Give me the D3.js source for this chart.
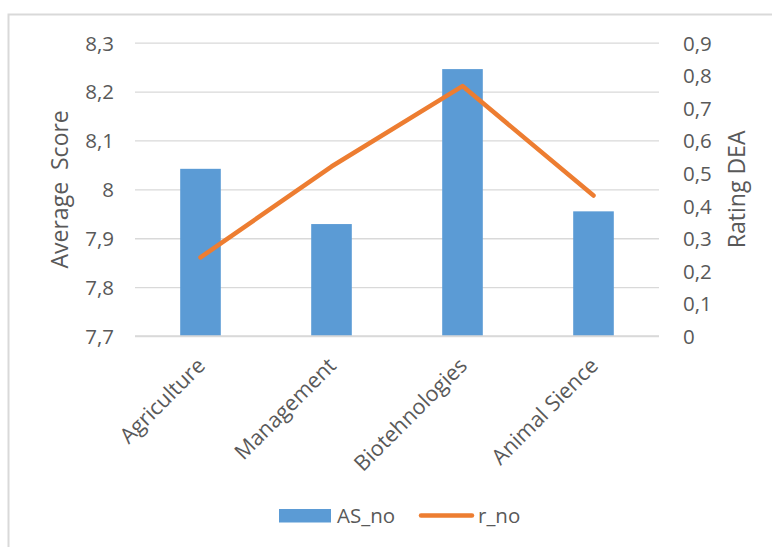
<!DOCTYPE html>
<html>
<head>
<meta charset="utf-8">
<script src="https://cdn.jsdelivr.net/npm/d3@7"></script>
<style>
  html, body { margin: 0; padding: 0; background: #fff; }
  svg { display: block; }
  text { font-family: "Open Sans", sans-serif; fill: #595959; }
</style>
</head>
<body>
<svg id="chart" width="772" height="547"></svg>
<script>
const categories = ["Agriculture", "Management", "Biotehnologies", "Animal Sience"];
const asNo = [8.042, 7.929, 8.246, 7.955];
const rNo = [0.241, 0.52, 0.767, 0.431];
const leftTicks = [7.7, 7.8, 7.9, 8.0, 8.1, 8.2, 8.3];
const rightTicks = [0, 0.1, 0.2, 0.3, 0.4, 0.5, 0.6, 0.7, 0.8, 0.9];
const seriesNames = ["AS_no", "r_no"];

const svg = d3.select("#chart");
const plot = { left: 135, right: 659, top: 42.7, bottom: 336 };
const fmt = v => (Math.round(v * 10) / 10).toString().replace(".", ",");

// outer border
svg.append("rect").attr("x", 8.5).attr("y", 14.5).attr("width", 900).attr("height", 700)
  .attr("fill", "none").attr("stroke", "#d9d9d9").attr("stroke-width", 2);

const x = d3.scaleBand().domain(categories).range([plot.left, plot.right]).paddingInner(0.69).paddingOuter(0.345);
const xc = d3.scaleBand().domain(categories).range([plot.left, plot.right]);
const yL = d3.scaleLinear().domain([7.7, 8.3]).range([plot.bottom, plot.top]);
const yR = d3.scaleLinear().domain([0, 0.9]).range([plot.bottom, plot.top]);

// gridlines
const gl = d3.axisLeft(yL).tickValues(leftTicks).tickSize(-(plot.right - plot.left)).tickFormat("");
const gg = svg.append("g").attr("transform", `translate(${plot.left},0)`).call(gl);
gg.select(".domain").remove();
gg.selectAll("line").attr("stroke", "#d9d9d9").attr("stroke-width", 1.3);

// left tick labels
const la = d3.axisLeft(yL).tickValues(leftTicks).tickSize(0).tickPadding(21).tickFormat(fmt);
const lg = svg.append("g").attr("transform", `translate(${plot.left},0)`).call(la);
lg.select(".domain").remove();
lg.selectAll("text").style("font-family", '"Open Sans", sans-serif').attr("font-size", 20.5).attr("fill", "#595959").attr("dy", "0.36em");

// right tick labels
const ra = d3.axisRight(yR).tickValues(rightTicks).tickSize(0).tickPadding(24).tickFormat(fmt);
const rg = svg.append("g").attr("transform", `translate(${plot.right},0)`).call(ra);
rg.select(".domain").remove();
rg.selectAll("text").style("font-family", '"Open Sans", sans-serif').attr("font-size", 20.5).attr("fill", "#595959").attr("dy", "0.36em");

// bars
svg.append("g").selectAll("rect").data(categories).join("rect")
  .attr("x", d => x(d)).attr("width", x.bandwidth())
  .attr("y", (d, i) => yL(asNo[i])).attr("height", (d, i) => yL(7.7) - yL(asNo[i]))
  .attr("fill", "#5b9bd5");

// baseline axis line
svg.append("line").attr("x1", plot.left).attr("x2", plot.right).attr("y1", plot.bottom).attr("y2", plot.bottom)
  .attr("stroke", "#d9d9d9").attr("stroke-width", 1.3);

// line
const line = d3.line().x((d, i) => xc(categories[i]) + xc.bandwidth() / 2).y(d => yR(d));
svg.append("path").datum(rNo).attr("d", line).attr("fill", "none")
  .attr("stroke", "#ed7d31").attr("stroke-width", 4.5).attr("stroke-linejoin", "round").attr("stroke-linecap", "round");

// category labels
svg.append("g").selectAll("text").data(categories).join("text")
  .attr("transform", d => `translate(${xc(d) + xc.bandwidth() / 2 + 6},${plot.bottom + 31}) rotate(-45)`)
  .attr("text-anchor", "end").attr("font-size", 21.5).text(d => d);

// axis titles
svg.append("text").attr("transform", `translate(68,${(plot.top + plot.bottom) / 2}) rotate(-90)`)
  .attr("text-anchor", "middle").attr("font-size", 23).attr("xml:space", "preserve").text("Average  Score");
svg.append("text").attr("transform", `translate(745,${(plot.top + plot.bottom) / 2}) rotate(-90)`)
  .attr("text-anchor", "middle").attr("font-size", 23).text("Rating DEA");

// legend
const lgd = svg.append("g");
lgd.append("rect").attr("x", 279).attr("y", 509).attr("width", 52).attr("height", 13.5).attr("fill", "#5b9bd5");
lgd.append("text").attr("x", 337).attr("y", 523).attr("font-size", 20.5).text(seriesNames[0]);
lgd.append("line").attr("x1", 421).attr("x2", 472).attr("y1", 515.5).attr("y2", 515.5)
  .attr("stroke", "#ed7d31").attr("stroke-width", 4.5).attr("stroke-linecap", "round");
lgd.append("text").attr("x", 478).attr("y", 523).attr("font-size", 20.5).text(seriesNames[1]);
</script>
</body>
</html>
